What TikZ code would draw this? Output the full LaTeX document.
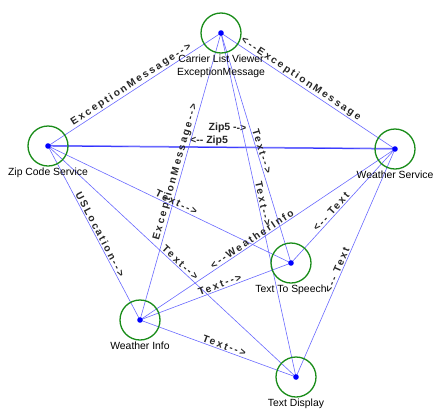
\documentclass[tikz,border=0pt]{standalone}
\usepackage{fontspec}
\setmainfont{Liberation Sans}
\newfontfamily\edgefont{Liberation Sans}[LetterSpace=20]
\newcommand\rarr{-{}-{}>}
\newcommand\larr{<-{}-}
\pgfdeclarelayer{bg}
\pgfsetlayers{bg,main}
\definecolor{edgeblue}{RGB}{105,105,255}
\definecolor{nodegreen}{RGB}{25,140,25}
\definecolor{dotblue}{RGB}{0,0,255}
\begin{document}
\begin{tikzpicture}[x=1pt,y=-1pt,
  vert/.style={circle, draw=nodegreen, line width=1.3pt, minimum size=40pt, inner sep=0pt},
  namelbl/.style={font=\fontsize{10.4}{12.8}\selectfont, inner sep=1pt, align=center},
  conn/.style={draw=edgeblue, line width=0.6pt},
  elbl/.style={sloped, above, inner sep=1pt, text=black!85,
    font=\edgefont\bfseries\fontsize{10.2}{12}\selectfont},
  hlbl/.style={sloped, above, inner sep=1pt, text=black!85,
    font=\bfseries\fontsize{10.5}{12}\selectfont},
  label distance=0pt]
\useasboundingbox (0,0) rectangle (441,418);

\node[vert, label={[namelbl]below:Carrier List Viewer\\ExceptionMessage}] (clv) at (221,33) {};
\node[vert, label={[namelbl]below:Zip Code Service}] (zcs) at (48,146) {};
\node[vert, label={[namelbl]below:Weather Service}] (ws) at (395,149) {};
\node[vert, label={[namelbl]below:Text To Speech}] (tts) at (291,263) {};
\node[vert, label={[namelbl]below:Weather Info}] (wi) at (140,320) {};
\node[vert, label={[namelbl]below:Text Display}] (td) at (296,377) {};

\begin{pgfonlayer}{bg}
\draw[conn] (zcs.center) -- node[elbl, pos=0.5] {ExceptionMessage\rarr} (clv.center);
\draw[conn] (ws.center) -- node[elbl, pos=0.56] {\larr ExceptionMessage} (clv.center);
\draw[conn, line width=0.9pt, draw=blue!85] (zcs.center) -- node[hlbl, pos=0.517, above=13pt] {Zip5 \rarr} (ws.center);
\draw[conn, line width=0.9pt] ([yshift=0.6pt]ws.center) -- node[hlbl, pos=0.536] {\larr\ Zip5} ([yshift=0.6pt]zcs.center);
\draw[conn] (clv.center) -- node[elbl, pos=0.52] {Text\rarr} (tts.center);
\draw[conn] (clv.center) -- node[elbl, pos=0.5] {Text\rarr} (td.center);
\draw[conn] (wi.center) -- node[elbl, pos=0.51] {ExceptionMessage\rarr} (clv.center);
\draw[conn] (zcs.center) -- node[elbl, pos=0.52] {Text\rarr} (tts.center);
\draw[conn] (zcs.center) -- node[elbl, pos=0.52] {Text\rarr} (td.center);
\draw[conn] (zcs.center) -- node[elbl, pos=0.52] {USLocation\rarr} (wi.center);
\draw[conn] (ws.center) -- node[elbl, pos=0.55] {\larr WeatherInfo} (wi.center);
\draw[conn] (wi.center) -- node[elbl, pos=0.54] {Text\rarr} (tts.center);
\draw[conn] (wi.center) -- node[elbl, pos=0.53] {Text\rarr} (td.center);
\draw[conn] (ws.center) -- node[elbl, pos=0.58] {\larr\ Text} (tts.center);
\draw[conn] (ws.center) -- node[elbl, pos=0.54] {\larr\ Text} (td.center);
\end{pgfonlayer}

\foreach \n in {clv,zcs,ws,tts,wi,td}
  \fill[dotblue] (\n.center) circle[radius=2.8pt];
\end{tikzpicture}
\end{document}
